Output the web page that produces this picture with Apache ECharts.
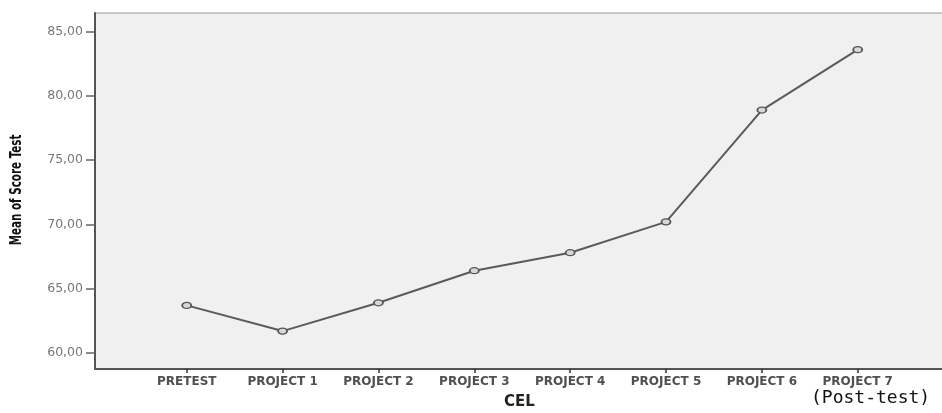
<!DOCTYPE html>
<html>
<head>
<meta charset="utf-8">
<script src="https://cdn.jsdelivr.net/npm/echarts@6/dist/echarts.min.js"></script>
<style>html,body{margin:0;padding:0;background:#fff}#c{width:942px;height:413px}</style>
</head>
<body>
<div id="c"></div>
<script>
const categories = ['PRETEST','PROJECT 1','PROJECT 2','PROJECT 3','PROJECT 4','PROJECT 5','PROJECT 6','PROJECT 7'];
const meanScores = [63.7, 61.7, 63.9, 66.4, 67.8, 70.2, 78.9, 83.6];
const yTicks = [60, 65, 70, 75, 80, 85];
const xTicks = [0, 1, 2, 3, 4, 5, 6, 7];
const yTitle = 'Mean of Score Test';

const chart = echarts.init(document.getElementById('c'));
chart.setOption({
  animation: false,
  grid: {left: 95, top: 13, right: -2, bottom: 44, outerBoundsMode: 'none', containLabel: false, show: true, backgroundColor: '#f0f0f0', borderColor: '#9a9a9a', borderWidth: 1},
  xAxis: {
    type: 'value', min: -0.957, max: 7.90,
    splitLine: {show: false},
    axisLine: {show: true, onZero: false, lineStyle: {color: '#555', width: 2}},
    axisTick: {show: true, customValues: xTicks, length: 4, lineStyle: {color: '#333', width: 1.5}},
    axisLabel: {customValues: xTicks, formatter: v => categories[v] || '', color: '#505050', fontFamily: 'DejaVu Sans', fontWeight: 'bold', fontSize: 12, margin: 7},
    name: 'CEL', nameLocation: 'middle', nameGap: 26,
    nameTextStyle: {fontFamily: 'DejaVu Sans', fontWeight: 'bold', fontSize: 15, color: '#222'}
  },
  yAxis: {
    type: 'value', min: 58.75, max: 86.45,
    splitLine: {show: false},
    axisLine: {show: true, onZero: false, lineStyle: {color: '#555', width: 2}},
    axisTick: {show: true, customValues: yTicks, length: 9, lineStyle: {color: '#666', width: 1.5}},
    axisLabel: {customValues: yTicks, formatter: v => v.toFixed(2).replace('.', ','), color: '#777', fontFamily: 'DejaVu Sans', fontSize: 12.5, margin: 12}
  },
  series: [{
    type: 'line',
    data: meanScores.map((v, i) => [i, v]),
    symbol: 'circle', symbolSize: [9, 6],
    lineStyle: {color: '#5a5a5a', width: 2},
    itemStyle: {color: '#d8d8d8', borderColor: '#555', borderWidth: 1.5}
  }],
  graphic: [{
    type: 'text', x: 17, y: 190, rotation: Math.PI / 2, scaleX: 0.72,
    style: {text: yTitle, font: 'bold 16px "DejaVu Sans Condensed", sans-serif', fill: '#111', align: 'center', verticalAlign: 'middle'}
  }, {
    type: 'text', left: 811, top: 389,
    style: {text: '(Post-test)', font: '18px "DejaVu Sans Mono", monospace', fill: '#111'}
  }]
});
</script>
</body>
</html>
